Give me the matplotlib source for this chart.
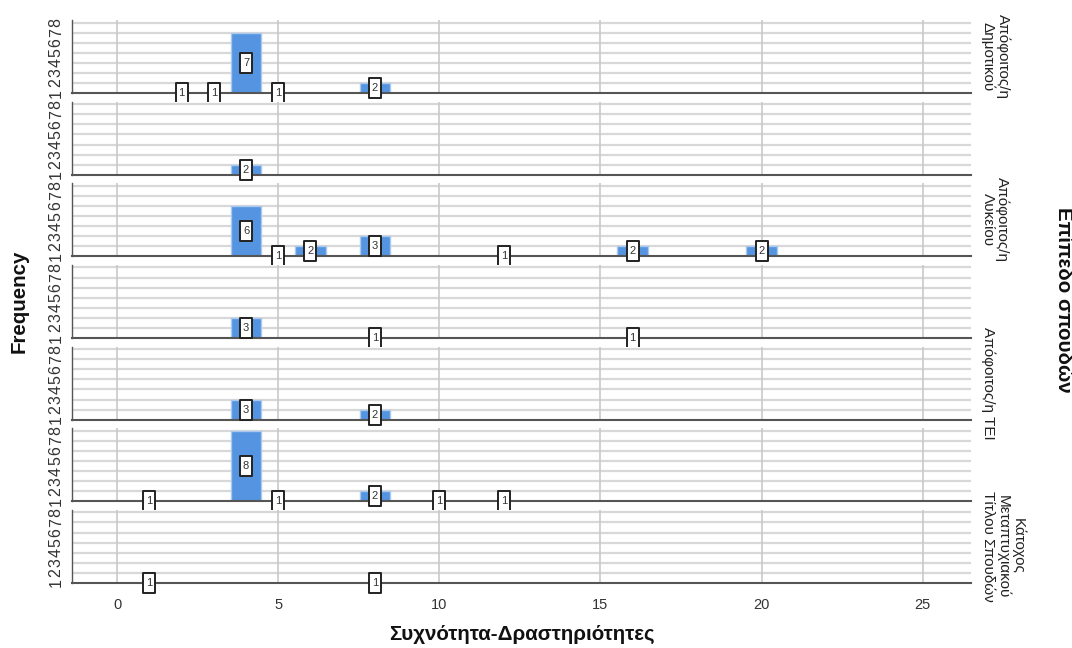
import matplotlib
matplotlib.use("Agg")
import matplotlib.pyplot as plt
from matplotlib.path import Path

plt.rcParams['font.family'] = ['Liberation Sans', 'DejaVu Sans']

# ---- data (activities value -> frequency) per education level panel ----
x_dimotikou = [2, 3, 4, 5, 8]
n_dimotikou = [1, 1, 7, 1, 2]
x_panel2 = [4]
n_panel2 = [2]
x_lykeiou = [4, 5, 6, 8, 12, 16, 20]
n_lykeiou = [6, 1, 2, 3, 1, 2, 2]
x_panel4 = [4, 8, 16]
n_panel4 = [3, 1, 1]
x_tei = [4, 8]
n_tei = [3, 2]
x_panel6 = [1, 4, 5, 8, 10, 12]
n_panel6 = [1, 8, 1, 2, 1, 1]
x_metapt = [1, 8]
n_metapt = [1, 1]

panel_labels = ['Απόφοιτος/η\nΔημοτικού', '', 'Απόφοιτος/η\nΛυκείου', '',
                'Απόφοιτος/η ΤΕΙ', '', 'Κάτοχος\nΜεταπτυχιακού\nΤίτλου Σπουδών']
x_ticks = [0, 5, 10, 15, 20, 25]
y_ticks = [1, 2, 3, 4, 5, 6, 7, 8]

x_title = 'Συχνότητα-Δραστηριότητες'
y_title = 'Frequency'
panel_title = 'Επίπεδο σπουδών'

panels = [(x_dimotikou, n_dimotikou), (x_panel2, n_panel2), (x_lykeiou, n_lykeiou),
          (x_panel4, n_panel4), (x_tei, n_tei), (x_panel6, n_panel6), (x_metapt, n_metapt)]

BAR = '#5494E0'
BAR_EDGE = '#a9c9ef'
box_marker = Path([(-5.5, -9), (5.5, -9), (5.5, 9), (-5.5, 9), (-5.5, -9)],
                  [Path.MOVETO, Path.LINETO, Path.LINETO, Path.LINETO, Path.CLOSEPOLY])

fig = plt.figure(figsize=(10.72, 6.48), dpi=100)
gs = fig.add_gridspec(7, 1, left=72/1072, right=971/1072, top=1-20/648,
                      bottom=1-583/648, hspace=0.115)

for i, ((xs, ns), lab) in enumerate(zip(panels, panel_labels)):
    ax = fig.add_subplot(gs[i, 0])
    ax.set_xlim(-1.4, 26.5)
    ax.set_ylim(1, 8.25)
    for y in y_ticks[1:]:
        ax.axhline(y, color='#d8d8d8', lw=1.6, zorder=0)
    for x in x_ticks:
        ax.axvline(x, color='#c9c9c9', lw=1.2, zorder=0.5)
    ax.bar(xs, ns, width=0.95, color=BAR, edgecolor=BAR_EDGE, linewidth=1.0, zorder=2)
    mids = [(1 + n) / 2 for n in ns]
    ax.plot(xs, mids, ls='none', marker=box_marker, ms=13.8, mfc='white',
            mec='#222222', mew=1.4, clip_on=False, zorder=6)
    for x, m, n in zip(xs, mids, ns):
        ax.text(x, m, str(n), ha='center', va='center', fontsize=8,
                color='#333333', zorder=7, clip_on=False)
    for s in ['top', 'right']:
        ax.spines[s].set_visible(False)
    ax.spines['bottom'].set_color('#555555')
    ax.spines['bottom'].set_linewidth(1.5)
    ax.spines['left'].set_color('#555555')
    ax.spines['left'].set_linewidth(1.0)
    ax.spines['bottom'].set_zorder(3)
    ax.set_yticks(y_ticks)
    ax.set_yticklabels([str(t) for t in y_ticks], rotation=90, va='center')
    ax.tick_params(axis='y', length=0, pad=6, labelsize=11.5, labelcolor='#333333')
    ax.set_xticks(x_ticks)
    if i == 6:
        ax.tick_params(axis='x', length=0, pad=11, labelsize=10.5, labelcolor='#333333')
    else:
        ax.tick_params(axis='x', length=0, labelbottom=False)
    if lab:
        ax.text(1.011, 0.5, lab, transform=ax.transAxes, rotation=-90,
                ha='left', va='center', multialignment='center',
                fontsize=11, color='#222222', linespacing=1.05)

fig.text(521.5/1072, 1-634/648, x_title, ha='center', va='center',
         fontsize=14.8, weight='bold', color='#111111')
fig.text(19.5/1072, 1-301/648, y_title, ha='center', va='center', rotation=90,
         fontsize=14.8, weight='bold', color='#111111')
fig.text(1063/1072, 1-300/648, panel_title, ha='center', va='center', rotation=-90,
         fontsize=14.8, weight='bold', color='#111111')

fig.savefig('out.png', dpi=100)
